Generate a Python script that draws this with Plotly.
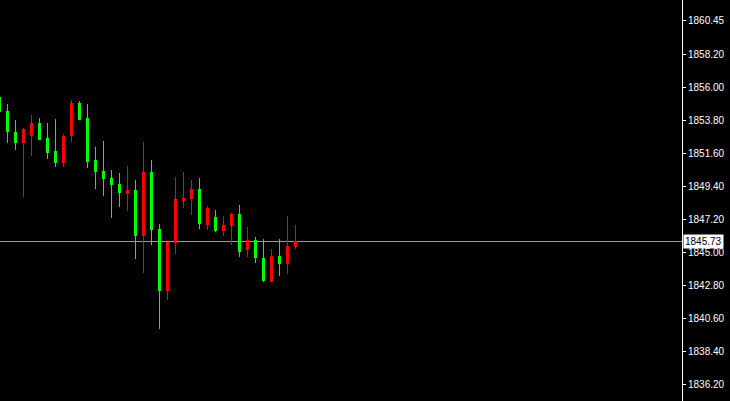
import plotly.graph_objects as go

# Bar index (one per candle), first one partially cut at the left edge
bar_index = list(range(-1, 37))

open_ = [1855.33, 1854.40, 1853.00, 1852.29, 1852.75, 1853.60, 1852.60, 1851.67, 1850.95, 1852.75,
         1854.87, 1853.93, 1851.07, 1850.40, 1849.93, 1849.53, 1848.93, 1849.07, 1846.09, 1850.33,
         1846.53, 1842.42, 1845.62, 1848.42, 1848.55, 1849.20, 1846.82, 1847.27, 1846.42, 1846.75,
         1847.53, 1845.15, 1845.80, 1844.60, 1843.02, 1844.67, 1844.22, 1845.35]
high = [1855.47, 1854.87, 1853.80, 1853.27, 1854.13, 1853.93, 1853.60, 1853.87, 1852.87, 1855.13,
        1855.07, 1854.87, 1852.00, 1852.40, 1850.47, 1850.27, 1850.73, 1849.80, 1852.33, 1851.13,
        1846.87, 1845.62, 1850.00, 1850.33, 1849.80, 1849.93, 1848.07, 1847.80, 1847.40, 1847.60,
        1848.13, 1846.67, 1846.00, 1845.87, 1845.20, 1845.87, 1847.40, 1846.80]
low = [1854.27, 1852.29, 1851.80, 1848.65, 1851.42, 1852.49, 1851.22, 1850.69, 1850.69, 1852.35,
       1853.82, 1850.62, 1849.22, 1848.75, 1847.29, 1848.02, 1847.75, 1844.55, 1843.62, 1845.49,
       1839.89, 1841.82, 1844.89, 1847.95, 1847.49, 1846.55, 1846.49, 1846.35, 1846.09, 1845.49,
       1844.69, 1844.69, 1844.29, 1843.02, 1843.02, 1843.42, 1843.55, 1845.22]
close = [1854.37, 1853.02, 1852.29, 1853.20, 1853.60, 1852.49, 1851.62, 1850.95, 1852.73, 1854.93,
         1853.82, 1851.02, 1850.35, 1849.89, 1849.49, 1848.95, 1849.07, 1846.09, 1850.27, 1846.49,
         1842.42, 1845.62, 1848.53, 1848.60, 1849.20, 1846.89, 1847.93, 1846.42, 1846.80, 1847.53,
         1845.02, 1845.80, 1844.62, 1843.09, 1844.67, 1844.22, 1845.40, 1845.73]

bid_price = 1845.73
tick_values = [1860.45, 1858.20, 1856.00, 1853.80, 1851.60, 1849.40, 1847.20, 1845.00,
               1842.80, 1840.60, 1838.40, 1836.20]
tick_labels = ["1860.45", "1858.20", "1856.00", "1853.80", "1851.60", "1849.40", "1847.20",
               "1845.00", "1842.80", "1840.60", "1838.40", "1836.20"]

fig = go.Figure()
fig.add_trace(go.Candlestick(
    x=bar_index, open=open_, high=high, low=low, close=close,
    increasing=dict(line=dict(color="#FF0000", width=1), fillcolor="#FF0000"),
    decreasing=dict(line=dict(color="#00FF00", width=1), fillcolor="#00FF00"),
    whiskerwidth=0,
    showlegend=False,
    hoverinfo="skip",
))

fig.add_shape(type="line", xref="paper", x0=0, x1=1, yref="y", y0=bid_price, y1=bid_price,
              line=dict(color="#9A9A9A", width=1), layer="below")

fig.add_annotation(xref="paper", x=1, yref="y", y=bid_price, text=f"{bid_price:.2f}",
                   showarrow=False, xanchor="left", yanchor="middle", xshift=1,
                   bgcolor="#FFFFFF", borderpad=1,
                   font=dict(family="Liberation Sans", size=10, color="#000000"))

fig.update_layout(
    width=730, height=401,
    margin=dict(l=0, r=48, t=0, b=0),
    paper_bgcolor="#000000", plot_bgcolor="#000000",
    boxgap=0.5,
    showlegend=False,
    hovermode=False,
    xaxis=dict(range=[-0.9375, 84.3125], showgrid=False, zeroline=False, showticklabels=False,
               rangeslider=dict(visible=False), showline=False, ticks=""),
    yaxis=dict(side="right", range=[1835.067, 1861.8], showgrid=False, zeroline=False,
               tickmode="array", tickvals=tick_values, ticktext=tick_labels,
               showline=True, linecolor="#FFFFFF", linewidth=1,
               ticks="outside", ticklen=3, tickcolor="#FFFFFF", tickwidth=1,
               tickfont=dict(family="Liberation Sans", size=10, color="#FFFFFF")),
)

post = (
    "document.body.style.margin='0';document.body.style.background='#000';"
    "document.querySelectorAll('.boxlayer path, .layer-below path').forEach(function(p){"
    "p.style.shapeRendering='crispEdges';});"
)

fig.write_html("out.html", config={"displayModeBar": False, "staticPlot": True},
               post_script=post)
